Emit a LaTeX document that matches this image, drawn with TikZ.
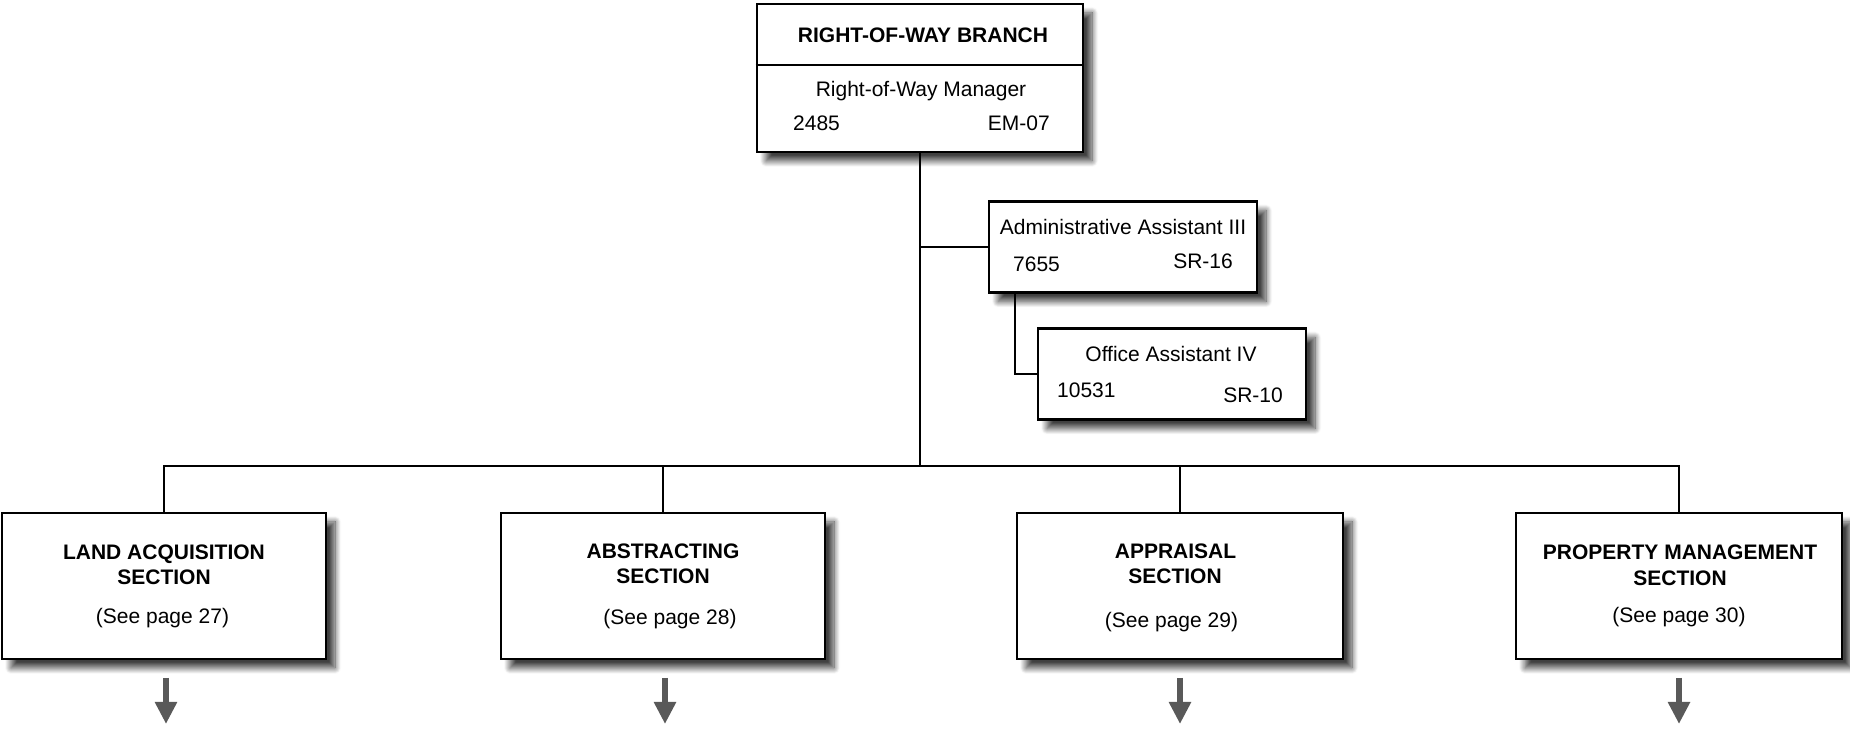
\documentclass[tikz,border=0pt]{standalone}
\usepackage{fontspec}
\setmainfont{Liberation Sans}
\usetikzlibrary{arrows.meta,shadows.blur}
\begin{document}
\begin{tikzpicture}[x=1pt,y=1pt,
  box/.style={draw=black, line width=2.6pt, fill=white, rectangle, inner sep=0pt,
    blur shadow={shadow xshift=9pt, shadow yshift=-9pt, shadow blur radius=6pt,
                 shadow blur steps=12, shadow opacity=75}},
  lbl/.style={inner sep=0pt, anchor=base, font=\fontsize{21}{26}\selectfont},
  blbl/.style={lbl, font=\fontsize{21}{26}\selectfont\bfseries},
  conn/.style={line width=1.8pt},
  downarrow/.style={draw=black!65, line width=6.5pt, -{Triangle[width=21pt,length=22pt]}}]
\useasboundingbox (0,0) rectangle (1850,730);

% top box
\node[box, minimum width=326pt, minimum height=148pt] (top) at (920,652) {};
\draw[line width=2pt] (top.west |- 0,665) -- (top.east |- 0,665);
\node[blbl] (topT) at (923,687) {RIGHT-OF-WAY BRANCH};
\node[lbl] (topM) at (921,633) {Right-of-Way Manager};
\node[lbl, anchor=base west] (topN) at (793,599) {2485};
\node[lbl, anchor=base east] (topG) at (1050,599) {EM-07};

% admin assistant
\node[box, minimum width=268pt, minimum height=91pt] (adm) at (1123,483) {};
\node[lbl] (admT) at (1123,495) {Administrative Assistant III};
\node[lbl, anchor=base west] (admN) at (1013,458) {7655};
\node[lbl, anchor=base east] (admG) at (1233,461) {SR-16};

% office assistant
\node[box, minimum width=268pt, minimum height=91pt] (off) at (1172,356) {};
\node[lbl] (offT) at (1171,368) {Office Assistant IV};
\node[lbl, anchor=base west] (offN) at (1057,332) {10531};
\node[lbl, anchor=base east] (offG) at (1283,327) {SR-10};

% sections
\node[box, minimum width=324pt, minimum height=146pt] (land) at (164,144) {};
\node[blbl] (landA) at (164,170) {LAND ACQUISITION};
\node[blbl] (landB) at (164,145) {SECTION};
\node[lbl] (landP) at (162.5,106) {(See page 27)};

\node[box, minimum width=324pt, minimum height=146pt] (abs) at (663,144) {};
\node[blbl] (absA) at (663,171.5) {ABSTRACTING};
\node[blbl] (absB) at (663,146.5) {SECTION};
\node[lbl] (absP) at (670,105) {(See page 28)};

\node[box, minimum width=326pt, minimum height=146pt] (app) at (1180,144) {};
\node[blbl] (appA) at (1175.5,171.5) {APPRAISAL};
\node[blbl] (appB) at (1175,146.5) {SECTION};
\node[lbl] (appP) at (1171.5,102) {(See page 29)};

\node[box, minimum width=326pt, minimum height=146pt] (prop) at (1679,144) {};
\node[blbl] (propA) at (1680,170) {PROPERTY MANAGEMENT};
\node[blbl] (propB) at (1680,144) {SECTION};
\node[lbl] (propP) at (1679,107) {(See page 30)};

% connectors
\coordinate (bus) at (920,264);
\coordinate (offbend) at (1015,356);
\draw[conn] (top.south) -- (bus);
\draw[conn] (920,483) -- (adm.west);
\draw[conn] (adm.south -| offbend) -- (offbend) -- (off.west |- offbend);
\draw[conn] (land.north) |- (bus);
\draw[conn] (abs.north) -- (abs.north |- bus);
\draw[conn] (app.north) -- (app.north |- bus);
\draw[conn] (prop.north) |- (bus);

% down arrows
\coordinate (landS) at (166,52);  \coordinate (landE) at (166,6);
\coordinate (absS) at (665,52);   \coordinate (absE) at (665,6);
\coordinate (appS) at (1180,52);  \coordinate (appE) at (1180,6);
\coordinate (propS) at (1679,52); \coordinate (propE) at (1679,6);
\draw[downarrow] (landS) -- (landE);
\draw[downarrow] (absS) -- (absE);
\draw[downarrow] (appS) -- (appE);
\draw[downarrow] (propS) -- (propE);
\end{tikzpicture}
\end{document}
